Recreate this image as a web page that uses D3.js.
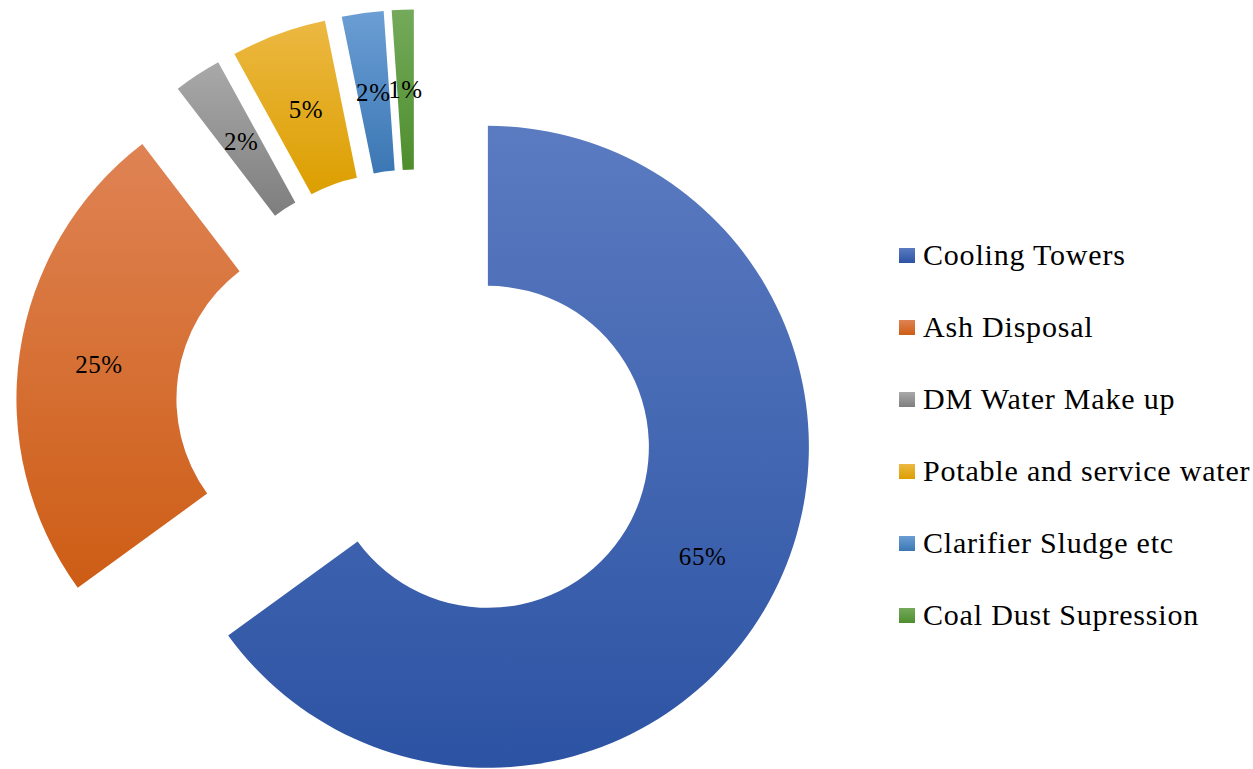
<!DOCTYPE html>
<html>
<head>
<meta charset="utf-8">
<script src="https://cdn.jsdelivr.net/npm/d3@7"></script>
<style>
  html, body { margin: 0; padding: 0; background: #fff; }
  text { font-family: "Liberation Serif", "Times New Roman", serif; fill: #000; }
</style>
</head>
<body>
<div id="chart"></div>
<script>
const categories = ["Cooling Towers", "Ash Disposal", "DM Water Make up",
  "Potable and service water", "Clarifier Sludge etc", "Coal Dust Supression"];
const shares = [65.0, 24.6, 2.4, 4.8, 2.1, 1.1];
const colorTop = ["#5b7bc1", "#df8354", "#a9a9a9", "#ecb842", "#6b9ed4", "#74aa5b"];
const colorBottom = ["#2c53a3", "#cd5d15", "#7e7e7e", "#dc9f00", "#3b77b4", "#4e8e2d"];

const width = 1253, height = 769;
const cx = 416.6, cy = 410.5;
const outerR = 321, innerR = 161, explode = 80;

const svg = d3.select("#chart").append("svg")
  .attr("width", width)
  .attr("height", height);

// one vertical gradient per slice
const defs = svg.append("defs");
categories.forEach((c, i) => {
  const g = defs.append("linearGradient")
    .attr("id", "grad" + i)
    .attr("x1", 0).attr("y1", 0).attr("x2", 0).attr("y2", 1);
  g.append("stop").attr("offset", "0%").attr("stop-color", colorTop[i]);
  g.append("stop").attr("offset", "100%").attr("stop-color", colorBottom[i]);
});

const pie = d3.pie().sort(null).value((d) => d);
const arcs = pie(shares);
const totalValue = d3.sum(shares);

const arc = d3.arc().innerRadius(innerR).outerRadius(outerR);

const chart = svg.append("g")
  .attr("transform", "translate(" + cx + "," + cy + ")");

// every slice is pushed out along its mid-angle
function offset(d) {
  const a = (d.startAngle + d.endAngle) / 2;
  return [Math.sin(a) * explode, -Math.cos(a) * explode];
}

const slice = chart.selectAll("g.slice")
  .data(arcs)
  .enter()
  .append("g")
  .attr("class", "slice")
  .attr("transform", (d) => "translate(" + offset(d) + ")");

slice.append("path")
  .attr("d", arc)
  .attr("fill", (d, i) => "url(#grad" + i + ")");

slice.append("text")
  .attr("transform", (d) => "translate(" + arc.centroid(d) + ")")
  .attr("text-anchor", "middle")
  .attr("dy", "0.35em")
  .attr("font-size", 25)
  .attr("letter-spacing", 0.6)
  .text((d) => Math.round((d.value / totalValue) * 100) + "%");

// legend
const legend = svg.append("g").attr("transform", "translate(899,255.5)");
const row = legend.selectAll("g")
  .data(categories)
  .enter()
  .append("g")
  .attr("transform", (d, i) => "translate(0," + i * 72 + ")");

row.append("rect")
  .attr("x", 0).attr("y", -7.5)
  .attr("width", 16).attr("height", 15)
  .attr("fill", (d, i) => "url(#grad" + i + ")");

row.append("text")
  .attr("x", 24)
  .attr("y", 9)
  .attr("font-size", 30)
  .attr("letter-spacing", 0.8)
  .text((d) => d);
</script>
</body>
</html>
